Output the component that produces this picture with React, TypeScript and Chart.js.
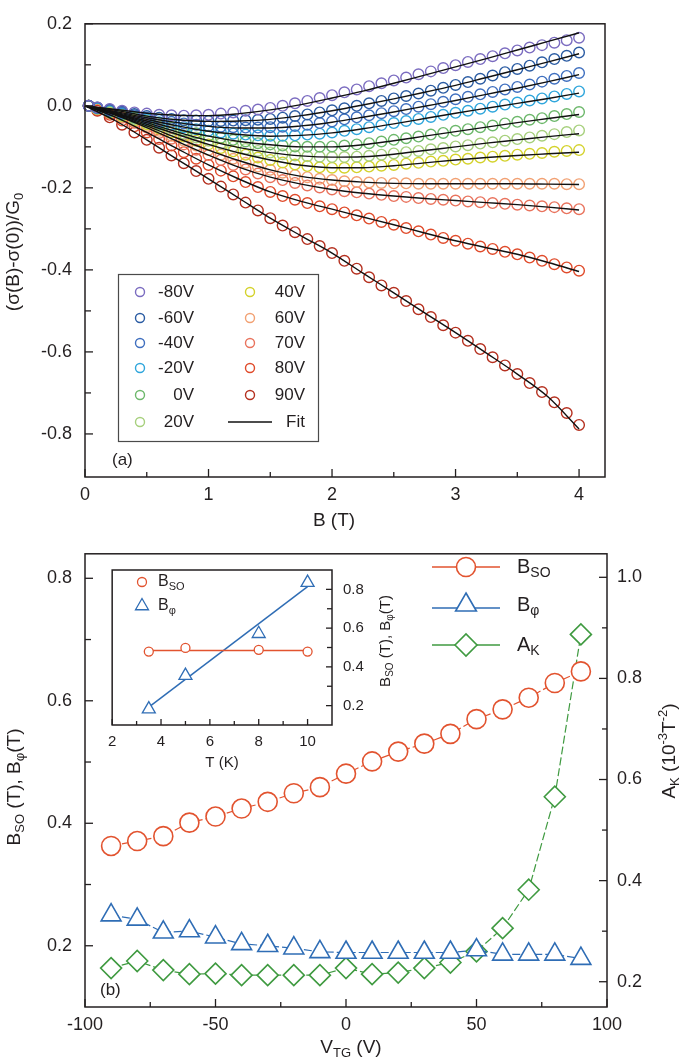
import React, { useEffect, useRef } from 'react';
import { Chart, registerables } from 'chart.js';

Chart.register(...registerables);

const FONT = '"Liberation Sans", Arial, Helvetica, sans-serif';
const INK = '#231f20';

// ---------------- Panel (a) data ----------------
const bField = [0.03, 0.1, 0.2, 0.3, 0.4, 0.5, 0.6, 0.7, 0.8, 0.9, 1.0, 1.1, 1.2, 1.3, 1.4, 1.5, 1.6, 1.7, 1.8, 1.9, 2.0, 2.1, 2.2, 2.3, 2.4, 2.5, 2.6, 2.7, 2.8, 2.9, 3.0, 3.1, 3.2, 3.3, 3.4, 3.5, 3.6, 3.7, 3.8, 3.9, 4.0];
const fitField = [0, 0.25, 0.5, 0.75, 1, 1.25, 1.5, 1.75, 2, 2.25, 2.5, 2.75, 3, 3.25, 3.5, 3.75, 4];

const seriesLabels = ['-80V', '-60V', '-40V', '-20V', '0V', '20V', '40V', '60V', '70V', '80V', '90V'];
const seriesColors = ['#7b6cc0', '#2b5ca3', '#3f6fbf', '#2fa6dc', '#6db86b', '#a7d07d', '#d4d22c', '#f2a173', '#e9735d', '#e04b2b', '#b5301f'];

const gM80 = [0, -0.004, -0.008, -0.012, -0.016, -0.019, -0.022, -0.023, -0.024, -0.023, -0.022, -0.019, -0.016, -0.012, -0.009, -0.005, 0.000, 0.006, 0.012, 0.019, 0.026, 0.033, 0.040, 0.048, 0.055, 0.062, 0.069, 0.077, 0.084, 0.092, 0.099, 0.107, 0.114, 0.121, 0.128, 0.135, 0.142, 0.148, 0.154, 0.160, 0.166];
const gM60 = [0, -0.004, -0.009, -0.014, -0.020, -0.025, -0.029, -0.032, -0.035, -0.036, -0.037, -0.037, -0.036, -0.035, -0.034, -0.032, -0.029, -0.025, -0.021, -0.016, -0.011, -0.006, 0.000, 0.006, 0.012, 0.018, 0.024, 0.030, 0.037, 0.044, 0.051, 0.058, 0.066, 0.074, 0.082, 0.090, 0.098, 0.106, 0.114, 0.122, 0.130];
const gM40 = [0, -0.005, -0.011, -0.017, -0.023, -0.029, -0.034, -0.039, -0.043, -0.046, -0.049, -0.051, -0.052, -0.053, -0.053, -0.052, -0.051, -0.049, -0.046, -0.042, -0.038, -0.033, -0.028, -0.023, -0.018, -0.013, -0.008, -0.002, 0.004, 0.010, 0.016, 0.022, 0.028, 0.034, 0.040, 0.046, 0.052, 0.059, 0.066, 0.073, 0.080];
const gM20 = [0, -0.006, -0.012, -0.019, -0.026, -0.033, -0.040, -0.046, -0.052, -0.057, -0.061, -0.065, -0.068, -0.070, -0.072, -0.073, -0.073, -0.072, -0.070, -0.068, -0.065, -0.061, -0.057, -0.052, -0.047, -0.042, -0.037, -0.032, -0.027, -0.022, -0.017, -0.012, -0.007, -0.002, 0.003, 0.008, 0.013, 0.018, 0.023, 0.029, 0.035];
const gP0 = [0, -0.006, -0.013, -0.021, -0.029, -0.037, -0.045, -0.053, -0.060, -0.067, -0.073, -0.078, -0.083, -0.087, -0.091, -0.094, -0.097, -0.099, -0.100, -0.100, -0.099, -0.097, -0.094, -0.091, -0.087, -0.083, -0.079, -0.075, -0.070, -0.066, -0.061, -0.057, -0.052, -0.048, -0.043, -0.039, -0.034, -0.030, -0.025, -0.020, -0.015];
const gP20 = [0, -0.007, -0.015, -0.023, -0.032, -0.041, -0.050, -0.059, -0.068, -0.077, -0.085, -0.092, -0.099, -0.105, -0.110, -0.114, -0.118, -0.121, -0.123, -0.124, -0.125, -0.125, -0.124, -0.122, -0.119, -0.116, -0.113, -0.110, -0.106, -0.103, -0.099, -0.096, -0.092, -0.089, -0.085, -0.081, -0.077, -0.073, -0.069, -0.064, -0.060];
const gP40 = [0, -0.007, -0.016, -0.025, -0.035, -0.045, -0.055, -0.065, -0.075, -0.085, -0.094, -0.103, -0.111, -0.119, -0.126, -0.132, -0.138, -0.143, -0.147, -0.150, -0.151, -0.151, -0.150, -0.148, -0.146, -0.144, -0.141, -0.139, -0.136, -0.134, -0.131, -0.129, -0.126, -0.124, -0.122, -0.119, -0.117, -0.115, -0.112, -0.110, -0.108];
const gP60 = [0, -0.008, -0.017, -0.027, -0.038, -0.049, -0.061, -0.073, -0.085, -0.097, -0.108, -0.119, -0.129, -0.139, -0.148, -0.156, -0.163, -0.169, -0.174, -0.178, -0.181, -0.184, -0.186, -0.187, -0.188, -0.189, -0.189, -0.190, -0.190, -0.190, -0.190, -0.190, -0.190, -0.190, -0.190, -0.190, -0.190, -0.190, -0.190, -0.191, -0.191];
const gP70 = [0, -0.008, -0.018, -0.029, -0.041, -0.053, -0.066, -0.080, -0.094, -0.107, -0.120, -0.132, -0.144, -0.155, -0.165, -0.174, -0.181, -0.188, -0.194, -0.199, -0.204, -0.208, -0.211, -0.214, -0.217, -0.220, -0.222, -0.225, -0.227, -0.229, -0.231, -0.233, -0.235, -0.237, -0.239, -0.241, -0.243, -0.245, -0.247, -0.250, -0.252];
const gP80 = [0, -0.010, -0.022, -0.036, -0.050, -0.065, -0.081, -0.097, -0.113, -0.129, -0.144, -0.158, -0.172, -0.186, -0.198, -0.210, -0.220, -0.229, -0.237, -0.245, -0.252, -0.260, -0.267, -0.275, -0.283, -0.290, -0.298, -0.306, -0.314, -0.322, -0.329, -0.336, -0.343, -0.349, -0.356, -0.362, -0.370, -0.378, -0.386, -0.394, -0.402];
const gP90 = [0, -0.012, -0.028, -0.046, -0.065, -0.083, -0.102, -0.121, -0.140, -0.159, -0.178, -0.197, -0.216, -0.236, -0.255, -0.274, -0.292, -0.308, -0.325, -0.342, -0.359, -0.378, -0.397, -0.418, -0.438, -0.456, -0.476, -0.496, -0.515, -0.535, -0.553, -0.573, -0.593, -0.613, -0.633, -0.654, -0.676, -0.698, -0.723, -0.749, -0.778];

const fM80 = [0, -0.009, -0.018, -0.023, -0.024, -0.019, -0.010, 0.003, 0.019, 0.036, 0.055, 0.075, 0.095, 0.115, 0.136, 0.157, 0.178];
const fM60 = [0, -0.011, -0.025, -0.034, -0.038, -0.037, -0.033, -0.024, -0.012, 0.002, 0.017, 0.033, 0.050, 0.069, 0.088, 0.107, 0.127];
const fM40 = [0, -0.014, -0.029, -0.041, -0.050, -0.054, -0.054, -0.049, -0.040, -0.028, -0.015, -0.001, 0.013, 0.028, 0.043, 0.059, 0.076];
const fM20 = [0, -0.016, -0.033, -0.049, -0.062, -0.070, -0.074, -0.072, -0.066, -0.056, -0.044, -0.031, -0.018, -0.006, 0.006, 0.018, 0.031];
const fP0 = [0, -0.018, -0.037, -0.057, -0.074, -0.087, -0.095, -0.100, -0.100, -0.095, -0.085, -0.074, -0.063, -0.052, -0.041, -0.031, -0.021];
const fP20 = [0, -0.019, -0.041, -0.064, -0.085, -0.102, -0.114, -0.122, -0.125, -0.124, -0.118, -0.109, -0.100, -0.091, -0.083, -0.075, -0.068];
const fP40 = [0, -0.020, -0.045, -0.070, -0.094, -0.115, -0.132, -0.145, -0.151, -0.151, -0.146, -0.139, -0.132, -0.126, -0.121, -0.117, -0.113];
const fP60 = [0, -0.022, -0.049, -0.079, -0.108, -0.134, -0.156, -0.172, -0.181, -0.186, -0.189, -0.190, -0.190, -0.190, -0.190, -0.191, -0.192];
const fP70 = [0, -0.023, -0.053, -0.087, -0.120, -0.150, -0.174, -0.191, -0.204, -0.213, -0.220, -0.226, -0.231, -0.236, -0.241, -0.247, -0.254];
const fP80 = [0, -0.028, -0.065, -0.105, -0.144, -0.179, -0.210, -0.233, -0.252, -0.271, -0.290, -0.310, -0.329, -0.346, -0.362, -0.382, -0.404];
const fP90 = [0, -0.037, -0.083, -0.131, -0.178, -0.226, -0.274, -0.317, -0.359, -0.408, -0.456, -0.505, -0.553, -0.603, -0.654, -0.710, -0.788];

const dataSeries = [gM80, gM60, gM40, gM20, gP0, gP20, gP40, gP60, gP70, gP80, gP90];
const fitSeries = [fM80, fM60, fM40, fM20, fP0, fP20, fP40, fP60, fP70, fP80, fP90];

const aXTicks = [0, 1, 2, 3, 4];
const aXMinor = [0.5, 1.5, 2.5, 3.5];
const aYTicks = [-0.8, -0.6, -0.4, -0.2, 0, 0.2];
const aYMinor = [-0.7, -0.5, -0.3, -0.1, 0.1];

// ---------------- Panel (b) data ----------------
const vtg = [-90, -80, -70, -60, -50, -40, -30, -20, -10, 0, 10, 20, 30, 40, 50, 60, 70, 80, 90];
const bSO = [0.363, 0.371, 0.379, 0.401, 0.411, 0.424, 0.435, 0.449, 0.459, 0.481, 0.501, 0.517, 0.530, 0.546, 0.570, 0.586, 0.605, 0.629, 0.648];
const bPhi = [0.250, 0.243, 0.222, 0.224, 0.214, 0.203, 0.200, 0.196, 0.190, 0.189, 0.189, 0.189, 0.189, 0.189, 0.193, 0.186, 0.186, 0.186, 0.179];
const aK = [0.227, 0.241, 0.223, 0.215, 0.216, 0.213, 0.213, 0.213, 0.213, 0.227, 0.215, 0.218, 0.227, 0.238, 0.260, 0.306, 0.382, 0.566, 0.887];

const bXTicks = [-100, -50, 0, 50, 100];
const bXMinor = [-75, -25, 25, 75];
const bYTicks = [0.2, 0.4, 0.6, 0.8];
const bYMinor = [0.3, 0.5, 0.7];
const bY2Ticks = [0.2, 0.4, 0.6, 0.8, 1.0];
const bY2Minor = [0.3, 0.5, 0.7, 0.9];

// ---------------- Inset data ----------------
const insetT = [3.5, 5, 8, 10];
const insetBSO = [0.479, 0.498, 0.488, 0.479];
const insetBPhi = [0.182, 0.355, 0.571, 0.835];
const insetFitT = [3.5, 10];
const insetFitBSO = [0.484, 0.484];
const insetFitBPhi = [0.192, 0.814];
const iXTicks = [2, 4, 6, 8, 10];
const iXMinor = [3, 5, 7, 9];
const iYTicks = [0.2, 0.4, 0.6, 0.8];
const iYMinor = [0.3, 0.5, 0.7];

const SO = '#e2532f';
const PHI = '#2f6db5';
const AKC = '#3f9a40';

// ---------------- helpers ----------------
type Run = [string, number];

function rich(ctx: CanvasRenderingContext2D, runs: Run[], x: number, y: number, size: number,
  align: 'left' | 'center' | 'right' = 'center', rot = 0, color = INK) {
  ctx.save();
  ctx.translate(x, y);
  ctx.rotate(rot);
  ctx.fillStyle = color;
  ctx.textBaseline = 'middle';
  ctx.textAlign = 'left';
  const fonts = runs.map(([, k]) => `${k ? Math.round(size * 0.68) : size}px ${FONT}`);
  const ws = runs.map(([t], i) => { ctx.font = fonts[i]; return ctx.measureText(t).width; });
  const total = ws.reduce((s, w) => s + w, 0);
  let cx = align === 'left' ? 0 : align === 'right' ? -total : -total / 2;
  runs.forEach(([t, k], i) => {
    ctx.font = fonts[i];
    ctx.fillText(t, cx, k === 1 ? size * 0.3 : k === 2 ? -size * 0.36 : 0);
    cx += ws[i];
  });
  ctx.restore();
}

function marker(ctx: CanvasRenderingContext2D, kind: string, x: number, y: number, r: number, color: string, lw = 1.4) {
  ctx.beginPath();
  if (kind === 'circle') ctx.arc(x, y, r, 0, Math.PI * 2);
  else if (kind === 'triangle') {
    ctx.moveTo(x, y - r); ctx.lineTo(x + r * 0.866, y + r * 0.5); ctx.lineTo(x - r * 0.866, y + r * 0.5); ctx.closePath();
  } else {
    ctx.moveTo(x - r, y); ctx.lineTo(x, y - r); ctx.lineTo(x + r, y); ctx.lineTo(x, y + r); ctx.closePath();
  }
  ctx.fillStyle = '#fff';
  ctx.fill();
  ctx.strokeStyle = color;
  ctx.lineWidth = lw;
  ctx.stroke();
}

type TickSpec = { id: string; side: 'bottom' | 'left' | 'right'; major: number[]; minor: number[]; ml: number; nl: number };

function makeDeco(id: string, ox: number, oy: number, ticks: TickSpec[], draw: (ctx: CanvasRenderingContext2D) => void, fill = false) {
  return {
    id,
    beforeDatasetsDraw(chart: any) {
      if (!fill) return;
      const { ctx, chartArea: a } = chart;
      ctx.save();
      ctx.fillStyle = '#fff';
      ctx.fillRect(a.left, a.top, a.right - a.left, a.bottom - a.top);
      ctx.restore();
    },
    afterDraw(chart: any) {
      const { ctx, chartArea: a } = chart;
      ctx.save();
      ctx.strokeStyle = INK;
      ctx.lineWidth = 1.5;
      ctx.strokeRect(a.left, a.top, a.right - a.left, a.bottom - a.top);
      ctx.lineWidth = 1.3;
      for (const t of ticks) {
        const sc = chart.scales[t.id];
        const list: [number, number][] = [...t.major.map((v): [number, number] => [v, t.ml]), ...t.minor.map((v): [number, number] => [v, t.nl])];
        for (const [v, len] of list) {
          const p = sc.getPixelForValue(v);
          ctx.beginPath();
          if (t.side === 'bottom') { ctx.moveTo(p, a.bottom); ctx.lineTo(p, a.bottom - len); }
          else if (t.side === 'left') { ctx.moveTo(a.left, p); ctx.lineTo(a.left + len, p); }
          else { ctx.moveTo(a.right, p); ctx.lineTo(a.right - len, p); }
          ctx.stroke();
        }
      }
      ctx.translate(-ox, -oy);
      draw(ctx);
      ctx.restore();
    },
  };
}

const fixedTicks = (values: number[]) => (s: any) => { s.ticks = values.map((v) => ({ value: v })); };
const tickFont = (size: number) => ({ family: FONT, size });
const noGrid = { display: false, drawTicks: false };

// ---------------- configs ----------------
function configA(): any {
  const dataSets = dataSeries.map((arr, k) => ({
    label: seriesLabels[k],
    data: bField.map((b, i) => ({ x: b, y: arr[i] })),
    showLine: false,
    pointStyle: 'circle',
    pointRadius: 5.3,
    pointBorderWidth: 1.4,
    pointBorderColor: seriesColors[k],
    pointBackgroundColor: 'rgba(0,0,0,0)',
    order: 1,
    clip: false,
  }));
  const fitSets = fitSeries.map((arr, k) => ({
    label: 'Fit ' + seriesLabels[k],
    data: fitField.map((b, i) => ({ x: b, y: arr[i] })),
    showLine: true,
    borderColor: '#111',
    borderWidth: 1.4,
    pointRadius: 0,
    cubicInterpolationMode: 'monotone',
    order: 0,
    clip: false,
  }));
  const draw = (ctx: CanvasRenderingContext2D) => {
    ctx.strokeStyle = '#4a4a4a';
    ctx.lineWidth = 1.2;
    ctx.strokeRect(118.5, 274.5, 200, 167);
    const rows = [292, 318, 343, 368, 395, 422];
    seriesLabels.forEach((lab, i) => {
      const col = i < 6 ? 0 : 1;
      const y = rows[col ? i - 6 : i];
      marker(ctx, 'circle', col ? 250 : 140, y, 4.5, seriesColors[i], 1.4);
      rich(ctx, [[lab, 0]], col ? 305 : 194, y, 17, 'right');
    });
    ctx.strokeStyle = '#111';
    ctx.lineWidth = 1.5;
    ctx.beginPath(); ctx.moveTo(228, 422); ctx.lineTo(272, 422); ctx.stroke();
    rich(ctx, [['Fit', 0]], 305, 422, 17, 'right');
    rich(ctx, [['(a)', 0]], 112, 460, 17, 'left');
    rich(ctx, [['B (T)', 0]], 334, 521, 19);
    rich(ctx, [['(σ(B)-σ(0))/G', 0], ['0', 1]], 14, 252, 19, 'center', -Math.PI / 2);
  };
  return {
    type: 'scatter',
    data: { datasets: [...dataSets, ...fitSets] },
    options: {
      responsive: false, animation: false, devicePixelRatio: 1, events: [],
      layout: { padding: { left: 0, top: 13, right: 80, bottom: 0 } },
      plugins: { legend: { display: false }, tooltip: { enabled: false } },
      scales: {
        x: {
          type: 'linear', position: 'bottom', min: 0, max: 4.21, grid: noGrid, border: { display: false },
          afterBuildTicks: fixedTicks(aXTicks), afterFit: (s: any) => { s.height = 53; },
          ticks: { padding: 7, font: tickFont(18), color: INK, autoSkip: false, maxRotation: 0, callback: (v: any) => String(v) },
        },
        y: {
          type: 'linear', position: 'left', min: -0.905, max: 0.2, grid: noGrid, border: { display: false },
          afterBuildTicks: fixedTicks(aYTicks), afterFit: (s: any) => { s.width = 85; },
          ticks: { padding: 13, font: tickFont(18), color: INK, autoSkip: false, callback: (v: any) => Number(v).toFixed(1) },
        },
      },
    },
    plugins: [makeDeco('decoA', 0, 0, [
      { id: 'x', side: 'bottom', major: aXTicks, minor: aXMinor, ml: 8, nl: 5 },
      { id: 'y', side: 'left', major: aYTicks, minor: aYMinor, ml: 8, nl: 6 },
    ], draw)],
  };
}

function configB(): any {
  const lineBase = { showLine: true, borderWidth: 1.2, borderDash: [8, 3], pointBorderWidth: 1.6, pointBackgroundColor: '#fff', clip: false };
  const draw = (ctx: CanvasRenderingContext2D) => {
    const items: { ly: number; my: number; kind: string; r: number; c: string; runs: Run[] }[] = [
      { ly: 567, my: 567, kind: 'circle', r: 9.5, c: SO, runs: [['B', 0], ['SO', 1]] },
      { ly: 608, my: 605, kind: 'triangle', r: 12, c: PHI, runs: [['B', 0], ['φ', 1]] },
      { ly: 645, my: 645, kind: 'diamond', r: 11, c: AKC, runs: [['A', 0], ['K', 1]] },
    ];
    for (const it of items) {
      ctx.strokeStyle = it.c;
      ctx.lineWidth = 1.4;
      ctx.beginPath(); ctx.moveTo(432, it.ly); ctx.lineTo(500, it.ly); ctx.stroke();
      marker(ctx, it.kind, 466, it.my, it.r, it.c, 1.6);
      rich(ctx, it.runs, 517, it.my, 20, 'left');
    }
    rich(ctx, [['(b)', 0]], 100, 990, 17, 'left');
    rich(ctx, [['V', 0], ['TG', 1], [' (V)', 0]], 351, 1048, 19);
    rich(ctx, [['B', 0], ['SO', 1], [' (T), B', 0], ['φ', 1], ['(T)', 0]], 15, 787, 19, 'center', -Math.PI / 2);
    rich(ctx, [['A', 0], ['K', 1], [' (10', 0], ['-3', 2], ['T', 0], ['-2', 2], [')', 0]], 670, 751, 19, 'center', -Math.PI / 2);
  };
  return {
    type: 'scatter',
    data: {
      datasets: [
        { ...lineBase, label: 'BSO', data: vtg.map((v, i) => ({ x: v, y: bSO[i] })), yAxisID: 'y', borderColor: SO, pointBorderColor: SO, pointStyle: 'circle', pointRadius: 9.5 },
        { ...lineBase, label: 'Bphi', data: vtg.map((v, i) => ({ x: v, y: bPhi[i] })), yAxisID: 'y', borderColor: PHI, pointBorderColor: PHI, pointStyle: 'triangle', pointRadius: 11.5 },
        { ...lineBase, label: 'AK', data: vtg.map((v, i) => ({ x: v, y: aK[i] })), yAxisID: 'y2', borderColor: AKC, pointBorderColor: AKC, pointStyle: 'rectRot', pointRadius: 10.5 },
      ],
    },
    options: {
      responsive: false, animation: false, devicePixelRatio: 1, events: [],
      layout: { padding: { left: 0, top: 14, right: 0, bottom: 0 } },
      plugins: { legend: { display: false }, tooltip: { enabled: false } },
      scales: {
        x: {
          type: 'linear', position: 'bottom', min: -100, max: 100, grid: noGrid, border: { display: false },
          afterBuildTicks: fixedTicks(bXTicks), afterFit: (s: any) => { s.height = 57; },
          ticks: { padding: 7, font: tickFont(18), color: INK, autoSkip: false, maxRotation: 0, callback: (v: any) => String(v) },
        },
        y: {
          type: 'linear', position: 'left', min: 0.1, max: 0.84, grid: noGrid, border: { display: false },
          afterBuildTicks: fixedTicks(bYTicks), afterFit: (s: any) => { s.width = 85; },
          ticks: { padding: 13, font: tickFont(18), color: INK, autoSkip: false, callback: (v: any) => Number(v).toFixed(1) },
        },
        y2: {
          type: 'linear', position: 'right', min: 0.15, max: 1.0465, grid: noGrid, border: { display: false },
          afterBuildTicks: fixedTicks(bY2Ticks), afterFit: (s: any) => { s.width = 78; },
          ticks: { padding: 10, font: tickFont(18), color: INK, autoSkip: false, callback: (v: any) => Number(v).toFixed(1) },
        },
      },
    },
    plugins: [makeDeco('decoB', 0, 530, [
      { id: 'x', side: 'bottom', major: bXTicks, minor: bXMinor, ml: 8, nl: 5 },
      { id: 'y', side: 'left', major: bYTicks, minor: bYMinor, ml: 8, nl: 6 },
      { id: 'y2', side: 'right', major: bY2Ticks, minor: bY2Minor, ml: 8, nl: 5 },
    ], draw)],
  };
}

function configInset(): any {
  const draw = (ctx: CanvasRenderingContext2D) => {
    marker(ctx, 'circle', 142, 582, 4.5, SO, 1.3);
    rich(ctx, [['B', 0], ['SO', 1]], 158, 582, 16, 'left');
    marker(ctx, 'triangle', 142, 606, 7.5, PHI, 1.3);
    rich(ctx, [['B', 0], ['φ', 1]], 158, 606, 16, 'left');
    rich(ctx, [['T (K)', 0]], 222, 763, 15);
    rich(ctx, [['B', 0], ['SO', 1], [' (T), B', 0], ['φ', 1], ['(T)', 0]], 386, 641, 15, 'center', -Math.PI / 2);
  };
  return {
    type: 'scatter',
    data: {
      datasets: [
        { label: 'fitSO', data: insetFitT.map((t, i) => ({ x: t, y: insetFitBSO[i] })), showLine: true, borderColor: SO, borderWidth: 1.5, pointRadius: 0, order: 1, clip: false },
        { label: 'fitPhi', data: insetFitT.map((t, i) => ({ x: t, y: insetFitBPhi[i] })), showLine: true, borderColor: PHI, borderWidth: 1.5, pointRadius: 0, order: 1, clip: false },
        { label: 'SO', data: insetT.map((t, i) => ({ x: t, y: insetBSO[i] })), showLine: false, pointStyle: 'circle', pointRadius: 4.5, pointBorderWidth: 1.3, pointBorderColor: SO, pointBackgroundColor: '#fff', order: 0, clip: false },
        { label: 'Phi', data: insetT.map((t, i) => ({ x: t, y: insetBPhi[i] })), showLine: false, pointStyle: 'triangle', pointRadius: 7.5, pointBorderWidth: 1.3, pointBorderColor: PHI, pointBackgroundColor: '#fff', order: 0, clip: false },
      ],
    },
    options: {
      responsive: false, animation: false, devicePixelRatio: 1, events: [],
      layout: { padding: { left: 10, top: 10, right: 0, bottom: 0 } },
      plugins: { legend: { display: false }, tooltip: { enabled: false } },
      scales: {
        x: {
          type: 'linear', position: 'bottom', min: 2, max: 11, grid: noGrid, border: { display: false },
          afterBuildTicks: fixedTicks(iXTicks), afterFit: (s: any) => { s.height = 50; },
          ticks: { padding: 8, font: tickFont(15), color: INK, autoSkip: false, maxRotation: 0, callback: (v: any) => String(v) },
        },
        y: {
          type: 'linear', position: 'right', min: 0.1, max: 0.9, grid: noGrid, border: { display: false },
          afterBuildTicks: fixedTicks(iYTicks), afterFit: (s: any) => { s.width = 68; },
          ticks: { padding: 11, font: tickFont(15), color: INK, autoSkip: false, callback: (v: any) => Number(v).toFixed(1) },
        },
      },
    },
    plugins: [makeDeco('decoI', 100, 550, [
      { id: 'x', side: 'bottom', major: iXTicks, minor: iXMinor, ml: 6, nl: 4 },
      { id: 'y', side: 'right', major: iYTicks, minor: iYMinor, ml: 6, nl: 5 },
    ], draw, true)],
  };
}

export default function App() {
  const aRef = useRef<HTMLCanvasElement>(null);
  const bRef = useRef<HTMLCanvasElement>(null);
  const iRef = useRef<HTMLCanvasElement>(null);

  useEffect(() => {
    const ca = new Chart(aRef.current as HTMLCanvasElement, configA());
    const cb = new Chart(bRef.current as HTMLCanvasElement, configB());
    const ci = new Chart(iRef.current as HTMLCanvasElement, configInset());
    return () => { ca.destroy(); cb.destroy(); ci.destroy(); };
  }, []);

  return (
    <div style={{ position: 'absolute', left: 0, top: 0, width: 685, height: 1064, background: '#fff', overflow: 'hidden' }}>
      <canvas ref={aRef} width={685} height={530} style={{ position: 'absolute', left: 0, top: 0 }} />
      <canvas ref={bRef} width={685} height={534} style={{ position: 'absolute', left: 0, top: 530 }} />
      <canvas ref={iRef} width={300} height={225} style={{ position: 'absolute', left: 100, top: 550 }} />
    </div>
  );
}
